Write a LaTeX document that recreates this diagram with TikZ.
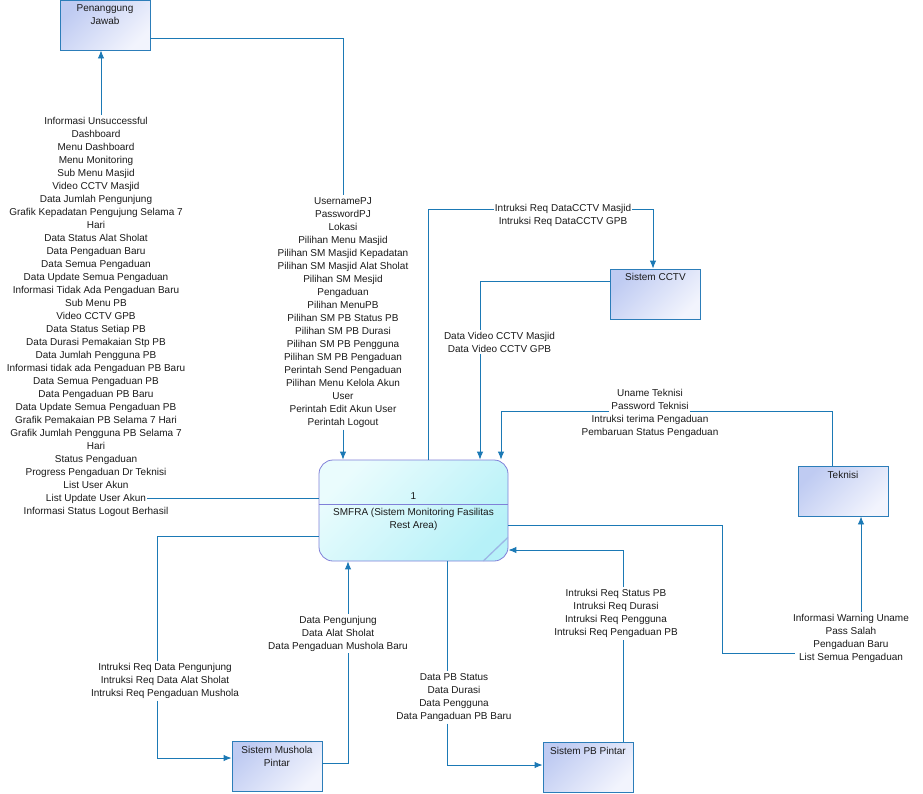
\documentclass[tikz,border=0pt]{standalone}
\usepackage{fontspec}
\setmainfont{Liberation Sans}
\usetikzlibrary{arrows.meta,calc,positioning}
\definecolor{lnc}{HTML}{1B79B5}
\definecolor{boxb}{HTML}{2C7DB9}
\definecolor{boxA}{HTML}{BFCBF2}
\definecolor{boxB}{HTML}{F2F4FD}
\definecolor{procb}{HTML}{8080D8}
\definecolor{procA}{HTML}{EAFCFD}
\definecolor{procB}{HTML}{B6F1F8}
\definecolor{foldc}{HTML}{9DB6E6}
\definecolor{txt}{HTML}{1A1A1A}
\begin{document}
\begin{tikzpicture}[x=1pt,y=-1pt,
  font=\fontsize{10}{13}\selectfont,
  ext/.style={draw=boxb, line width=0.9pt, top color=boxA, bottom color=boxB, shading angle=45,
    minimum width=90pt, minimum height=50pt, inner sep=0pt},
  proc/.style={draw=procb, line width=0.8pt, rounded corners=14pt, top color=procA, bottom color=procB,
    shading angle=45, minimum width=189pt, minimum height=101pt, inner sep=0pt},
  boxtxt/.style={align=center, inner sep=0pt, text=txt},
  lbl/.style={align=center, inner sep=2pt, text=txt},
  cn/.style={draw=lnc, line width=0.9pt},
  arr/.style={-{Latex[length=8pt,width=6.5pt]}, lnc}]
\useasboundingbox (0,0) rectangle (923,793);

% entities
\node[ext] (pj) at (105,25) {};
\node[boxtxt, below=5pt] (pjT) at (pj.north) {Penanggung\\Jawab};
\node[ext] (cctv) at (655.5,294) {};
\node[boxtxt, below=4.5pt] (cctvT) at (cctv.north) {Sistem CCTV};
\node[ext] (tek) at (843,491) {};
\node[boxtxt, below=5pt] (tekT) at (tek.north) {Teknisi};
\node[ext] (mus) at (277,766) {};
\node[boxtxt, below=5pt] (musT) at (mus.north) {Sistem Mushola\\Pintar};
\node[ext] (pb) at (588,767) {};
\node[boxtxt, below=5pt] (pbT) at (pb.north) {Sistem PB Pintar};

% process
\node[proc] (smfra) at (413.5,510.5) {};
\draw[procb, line width=0.8pt] (smfra.west |- 0,504) -- (smfra.east |- 0,504);
\draw[foldc, line width=1.3pt] ($(smfra.south east)+(-25,-0.5)$) -- ($(smfra.south east)+(-0.5,-24)$);
\node[boxtxt] (smN) at (413.5,496) {1};
\node[boxtxt] (smT) at (413.5,519.5) {SMFRA (Sistem Monitoring Fasilitas\\Rest Area)};

% labels
\node[lbl] (lblL) at (96,317) {Informasi Unsuccessful\\Dashboard\\Menu Dashboard\\Menu Monitoring\\Sub Menu Masjid\\Video CCTV Masjid\\Data Jumlah Pengunjung\\Grafik Kepadatan Pengujung Selama 7\\Hari\\Data Status Alat Sholat\\Data Pengaduan Baru\\Data Semua Pengaduan\\Data Update Semua Pengaduan\\Informasi Tidak Ada Pengaduan Baru\\Sub Menu PB\\Video CCTV GPB\\Data Status Setiap PB\\Data Durasi Pemakaian Stp PB\\Data Jumlah Pengguna PB\\Informasi tidak ada Pengaduan PB Baru\\Data Semua Pengaduan PB\\Data Pengaduan PB Baru\\Data Update Semua Pengaduan PB\\Grafik Pemakaian PB Selama 7 Hari\\Grafik Jumlah Pengguna PB Selama 7\\Hari\\Status Pengaduan\\Progress Pengaduan Dr Teknisi\\List User Akun\\List Update User Akun\\Informasi Status Logout Berhasil};
\node[lbl] (lblC) at (343,312.5) {UsernamePJ\\PasswordPJ\\Lokasi\\Pilihan Menu Masjid\\Pilihan SM Masjid Kepadatan\\Pilihan SM Masjid Alat Sholat\\Pilihan SM Mesjid\\Pengaduan\\Pilihan MenuPB\\Pilihan SM PB Status PB\\Pilihan SM PB Durasi\\Pilihan SM PB Pengguna\\Pilihan SM PB Pengaduan\\Perintah Send Pengaduan\\Pilihan Menu Kelola Akun\\User\\Perintah Edit Akun User\\Perintah Logout};
\node[lbl] (lblV) at (499.5,342) {Data Video CCTV Masjid\\Data Video CCTV GPB};
\node[lbl] (lblT) at (650,413.5) {Uname Teknisi\\Password Teknisi\\Intruksi terima Pengaduan\\Pembaruan Status Pengaduan};
\node[lbl] (lblW) at (851,638.5) {Informasi Warning Uname\\Pass Salah\\Pengaduan Baru\\List Semua Pengaduan};
\node[lbl] (lblPR) at (616,613.5) {Intruksi Req Status PB\\Intruksi Req Durasi\\Intruksi Req Pengguna\\Intruksi Req Pengaduan PB};
\node[lbl] (lblPD) at (454,697.5) {Data PB Status\\Data Durasi\\Data Pengguna\\Data Pangaduan PB Baru};
\node[lbl] (lblMR) at (165,681) {Intruksi Req Data Pengunjung\\Intruksi Req Data Alat Sholat\\Intruksi Req Pengaduan Mushola};
\node[lbl] (lblMD) at (338,633.5) {Data Pengunjung\\Data Alat Sholat\\Data Pengaduan Mushola Baru};

% helper coordinates
\coordinate (pjA) at ($(pj.south)+(-4,0)$);
\coordinate (luua) at (147,498);
\coordinate (sB) at ($(smfra.north)+(14.5,0)$);
\coordinate (sC) at ($(smfra.north)+(66.5,0)$);
\coordinate (sD) at ($(smfra.north)+(87.5,0)$);
\coordinate (c4) at ($(cctv.north)+(-2.5,0)$);
\coordinate (y4) at (0,209);
\coordinate (t6) at ($(tek.north)+(-11,0)$);
\coordinate (tkL) at (609,411);
\coordinate (tkR) at (690,411);
\coordinate (k7) at (722,653);
\coordinate (lsp) at (795,653);
\coordinate (tA) at ($(tek.south)+(18,0)$);
\coordinate (bA) at ($(smfra.south)+(33.5,0)$);
\coordinate (pA) at ($(pb.north)+(35,0)$);
\coordinate (m10) at (157,0);
\coordinate (sE) at ($(smfra.south)+(-65.5,0)$);

% connectors
\draw[cn] ($(pj.south east)+(0,-12)$) -| (lblC.north);
\draw[cn,arr] (lblC.south) -- (lblC.south |- smfra.north);

\draw[cn] (luua -| smfra.west) -- (luua);
\draw[cn,arr] (pjA |- lblL.north) -- (pjA);

\draw[cn,arr] (sB) -- (sB |- y4) -- (c4 |- y4) -- (c4);
\node[lbl, fill=white, inner xsep=1pt, inner ysep=0pt] (lblCC) at (563,215.5) {Intruksi Req DataCCTV Masjid\\Intruksi Req DataCCTV GPB};

\draw[cn] ($(cctv.west)+(0,-13)$) -| (sC |- lblV.north);
\draw[cn,arr] (sC |- lblV.south) -- (sC);

\draw[cn] (t6) |- (tkR);
\draw[cn,arr] (tkL) -| (sD);

\draw[cn] ($(smfra.east)+(0,14.5)$) -| (k7) -- (lsp);
\draw[cn,arr] (tA |- lblW.north) -- (tA);

\draw[cn] (bA) -- (bA |- lblPD.north);
\draw[cn,arr] (bA |- lblPD.south) |- ($(pb.west)+(0,-2)$);

\draw[cn] (pA) -- (pA |- lblPR.south);
\draw[cn,arr] (pA |- lblPR.north) |- ($(smfra.east)+(0,39.5)$);

\draw[cn] ($(smfra.west)+(0,25.5)$) -| (m10 |- lblMR.north);
\draw[cn,arr] (m10 |- lblMR.south) |- ($(mus.west)+(0,-8)$);

\draw[cn] ($(mus.east)+(0,-3)$) -| (sE |- lblMD.south);
\draw[cn,arr] (sE |- lblMD.north) -- (sE);
\end{tikzpicture}
\end{document}
